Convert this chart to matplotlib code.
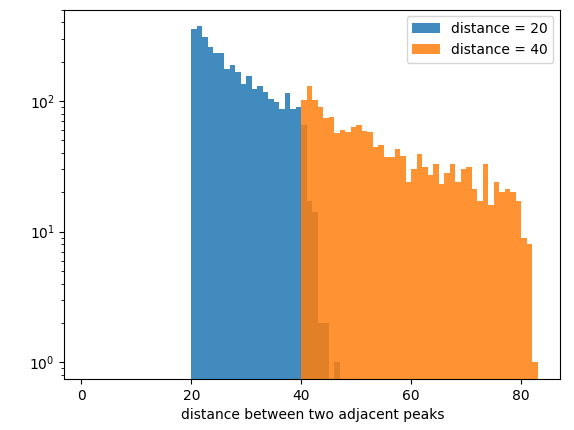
import matplotlib.pyplot as plt
import numpy as np

# counts per integer bin
bins_20 = np.arange(20, 47)
counts_20 = [353, 372, 307, 258, 232, 232, 175, 187, 166, 134,
             155, 123, 129, 117, 103, 98, 86, 115, 86, 90,
             65, 17, 14, 2, 2, 0, 1]

bins_40 = np.arange(40, 83)
counts_40 = [101, 129, 101, 90, 74, 75, 57, 60, 58, 63,
             65, 59, 58, 44, 46, 37, 37, 43, 38, 24,
             30, 39, 31, 27, 33, 23, 28, 33, 24, 30,
             31, 21, 17, 33, 16, 24, 20, 21, 20, 17,
             9, 8, 1]

edges = np.arange(1, 84)

fig = plt.figure(figsize=(5.74, 4.3), dpi=100)
ax = fig.add_axes([64.3 / 574, 51 / 430, 496 / 574, 369.5 / 430])

ax.hist(bins_20, bins=edges, weights=counts_20, alpha=0.85, log=True, label='distance = 20')
ax.hist(bins_40, bins=edges, weights=counts_40, alpha=0.85, log=True, label='distance = 40')

ax.set_xlabel('distance between two adjacent peaks')
ax.legend()

fig.savefig('out.png', dpi=100)
